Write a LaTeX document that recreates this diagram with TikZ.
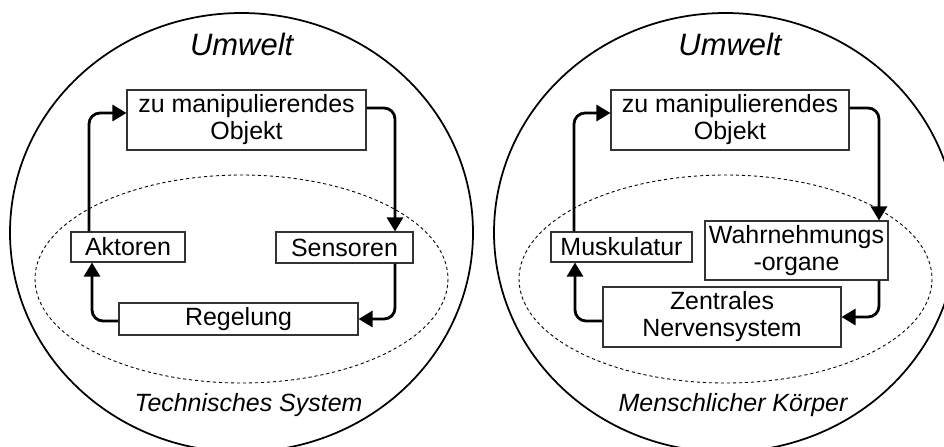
\documentclass[tikz,border=0pt]{standalone}
\usepackage{fontspec}
\setmainfont{Liberation Sans}
\usepackage{tikz}
\usetikzlibrary{arrows.meta,positioning,calc}
\newcommand{\boxfont}{\fontsize{14.2}{15.4}\selectfont}
\newcommand{\titlefont}{\fontsize{17.6}{20}\selectfont\itshape}

\begin{document}
\begin{tikzpicture}[
    x=0.2mm, y=-0.2mm,
    box/.style={rectangle, draw=black!80, line width=0.6pt, align=center, inner sep=0pt, font=\boxfont},
    arrow/.style={->, >={Triangle[length=2.8mm,width=3.2mm]}, line width=1.6pt, rounded corners=2.2mm},
    world/.style={line width=1pt},
    system/.style={line width=0.5pt, dash pattern=on 0.65mm off 0.55mm},
    title/.style={anchor=base, inner sep=0pt, font=\titlefont},
    caption/.style={anchor=base, inner sep=0pt, font=\boxfont\itshape}
]
\clip (0,0) rectangle (944,446);

% Umwelt
\draw[world] (241.5,232.5) ellipse [x radius=231.5, y radius=219.5];
\draw[world] (725.5,232.5) ellipse [x radius=231.5, y radius=219.5];
\node[title] (umwelt1) at (241.7,55) {Umwelt};
\node[title] (umwelt2) at (730,55) {Umwelt};

% System boundaries
\draw[system] (241.5,279) ellipse [x radius=206.5, y radius=104];
\draw[system] (725.5,279) ellipse [x radius=206.5, y radius=104];
\node[caption] (technik) at (248.5,411) {Technisches System};
\node[caption] (mensch) at (733,411) {Menschlicher Körper};

% Technisches System
\node[box, minimum width=47.8mm, minimum height=12mm] (objekt1) at (246.5,120) {zu manipulierendes\\Objekt};
\node[box, minimum width=22.8mm, minimum height=6mm] (aktoren) at (128,247) {Aktoren};
\node[box, minimum width=27.4mm, minimum height=6.2mm] (sensoren) at (344.5,247.5) {Sensoren};
\node[box, minimum width=47.8mm, minimum height=6.4mm] (regelung) at (238.5,319) {Regelung};

% Menschlicher Koerper
\node[box, minimum width=47.6mm, minimum height=12mm] (objekt2) at (730,120) {zu manipulierendes\\Objekt};
\node[box, minimum width=28.2mm, minimum height=6mm] (muskel) at (621.5,247) {Muskulatur};
\node[box, minimum width=36.6mm, minimum height=11.8mm] (organe) at (796.5,250.5) {Wahrnehmungs\\-organe};
\node[box, minimum width=47.6mm, minimum height=12mm] (zns) at (722,317) {Zentrales\\Nervensystem};

% Arrows
\draw[arrow] ($(aktoren.north)+(-39,0)$) |- ($(objekt1.west)+(0,-7)$);
\draw[arrow] ($(objekt1.east)+(0,-12)$) -| ($(sensoren.north)+(50.5,0)$);
\draw[arrow] ($(sensoren.south)+(50.5,0)$) |- (regelung.east);
\draw[arrow] ($(regelung.west)+(0,2)$) -| ($(aktoren.south)+(-36,0)$);

\draw[arrow] ($(muskel.north)+(-47.5,0)$) |- ($(objekt2.west)+(0,-7)$);
\draw[arrow] ($(objekt2.east)+(0,-12)$) -| ($(organe.north)+(82.5,0)$);
\draw[arrow] ($(organe.south)+(82.5,0)$) |- (zns.east);
\draw[arrow] ($(zns.west)+(0,4)$) -| ($(muskel.south)+(-46.5,0)$);

\end{tikzpicture}
\end{document}
